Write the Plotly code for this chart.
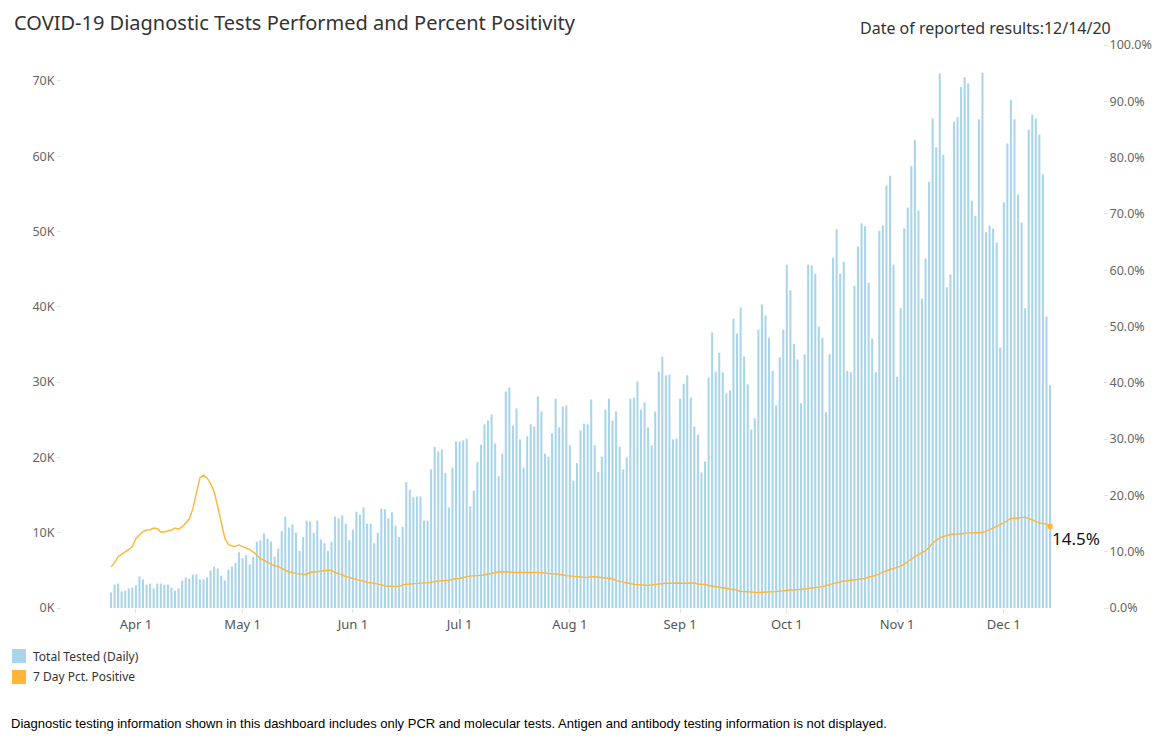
import pandas as pd
import plotly.graph_objects as go

# ---------------- data ----------------
start_date = "2020-03-25"
# Total tested (daily), in thousands
tests_k = [
    2.06, 3.1, 3.25, 2.2, 2.3, 2.6, 2.7, 3.0, 4.2, 3.8,
    3.1, 3.25, 2.6, 3.25, 3.25, 3.1, 3.1, 2.7, 2.3, 2.6,
    3.65, 4.05, 3.9, 4.45, 4.45, 3.8, 3.8, 4.05, 4.98, 5.5,
    5.25, 4.3, 3.65, 5.1, 5.5, 6.0, 7.4, 6.6, 7.0, 5.8,
    6.8, 8.8, 9.0, 9.9, 9.2, 8.8, 6.8, 7.9,
    10.2, 12.15, 10.7, 11.1, 10.0, 7.6, 9.4, 11.6, 11.5, 10.0,
    11.6, 9.1, 8.6, 7.6, 8.8, 12.15, 11.9, 12.3, 11.2, 9.0,
    10.4, 12.8, 12.4, 13.35, 11.2, 11.2, 8.6, 10.0, 13.2, 13.1,
    11.9, 12.7, 10.95, 9.4, 10.8, 16.7, 15.7, 14.7, 14.8,
    14.8, 11.6, 11.6, 18.4, 21.4, 20.8, 21.05, 17.9, 13.35, 18.65,
    22.1, 22.1, 22.25, 22.5, 13.5, 15.6, 19.4, 21.7, 24.4, 24.9,
    25.7, 21.85, 17.5, 20.5, 28.75, 29.3, 24.25, 26.5, 22.4, 18.65,
    22.8, 24.4, 24.1, 28.1, 26.1, 20.5, 20.1, 23.2, 27.8, 24.0,
    26.8, 26.9, 21.6, 16.9, 19.25, 23.6, 24.5, 24.4, 27.7, 21.6,
    18.1,
    20.1, 26.35, 27.8, 24.9, 26.1, 21.45, 18.4, 20.0, 27.8, 27.95,
    30.1, 26.35, 27.3, 24.0, 21.6, 26.1, 31.4, 33.4, 30.9, 31.0,
    22.4, 22.5, 27.8, 29.8, 30.9, 27.95, 24.1, 23.05, 18.0, 19.45,
    30.6, 36.6, 31.4, 33.9, 31.3, 28.5, 28.9, 38.45, 36.45, 39.9,
    33.4, 29.7, 23.7, 25.2, 37.0,
    40.3, 38.85, 35.9, 31.5, 26.9, 33.3, 37.0, 45.6, 42.2, 35.1,
    33.0, 27.2, 33.7, 45.6, 45.5, 44.4, 37.4, 35.9, 26.0, 33.7,
    46.5, 50.3, 44.4, 46.0, 31.5, 31.3, 42.8, 48.0, 51.1, 50.7,
    43.2, 35.8, 31.3,
    50.1, 50.8, 56.1, 57.4, 45.6, 30.7, 39.8, 50.4, 53.2, 58.75,
    62.2, 52.8, 41.1, 46.4, 56.6, 65.0, 61.2, 71.0, 60.2, 42.6,
    44.3, 64.6, 65.2, 69.2, 70.5, 69.7, 54.1, 52.1, 64.9, 71.1,
    49.9, 50.8, 50.4, 48.55, 34.6, 53.9, 61.7, 67.5, 64.9, 54.9,
    51.2, 39.8, 63.5, 65.5, 65.0, 62.9, 57.6, 38.7, 29.6,
]
# 7 day percent positive
pct_positive = [
    7.3, 8.0, 9.1, 9.5, 10.0, 10.4, 10.9, 12.3, 13.0, 13.55,
    13.85, 13.9, 14.2, 14.1, 13.5, 13.5, 13.7, 13.85, 14.2, 14.0,
    14.4, 15.1, 15.8, 17.6, 20.4, 23.1, 23.6, 23.1, 22.1, 20.65,
    18.0, 15.0, 12.4, 11.3, 11.0, 10.95, 11.2, 10.9, 10.65, 10.35,
    9.95, 9.3, 8.8, 8.45, 8.1, 7.8, 7.5, 7.35,
    7.0, 6.7, 6.4, 6.3, 6.1, 6.05, 6.0, 6.0, 6.3, 6.4,
    6.4, 6.6, 6.6, 6.7, 6.7, 6.3, 6.1, 5.9, 5.55, 5.45,
    5.2, 5.0, 4.9, 4.8, 4.55, 4.5, 4.4, 4.25, 4.1, 3.9,
    3.85, 3.85, 3.8, 3.85, 4.1, 4.2, 4.25, 4.25, 4.3,
    4.45, 4.5, 4.5, 4.55, 4.7, 4.8, 4.8, 4.9, 4.95, 5.1,
    5.2, 5.25, 5.4, 5.55, 5.7, 5.7, 5.7, 5.8, 5.9, 6.05,
    6.2, 6.3, 6.4, 6.45, 6.45, 6.4, 6.3, 6.3, 6.3, 6.3,
    6.3, 6.3, 6.4, 6.3, 6.25, 6.2, 6.15, 6.1, 6.05, 6.0,
    5.9, 5.75, 5.7, 5.7, 5.6,
    5.55, 5.45, 5.4, 5.6, 5.55, 5.45, 5.35, 5.35, 5.3, 5.2,
    4.85, 4.7, 4.6, 4.5, 4.25, 4.2, 4.15, 4.1, 4.0, 4.0,
    4.1, 4.2, 4.25, 4.4, 4.4, 4.4, 4.45, 4.45, 4.4, 4.45,
    4.45, 4.45, 4.45, 4.25, 4.2, 4.2, 4.0, 3.9, 3.8, 3.7,
    3.6, 3.5, 3.4, 3.3, 3.15, 2.95, 2.9, 2.85, 2.8, 2.8,
    2.75,
    2.8, 2.8, 2.85, 2.85, 2.9, 3.0, 3.1, 3.2, 3.2, 3.2,
    3.25, 3.3, 3.3, 3.45, 3.55, 3.6, 3.7, 3.8, 3.95, 4.15,
    4.4, 4.5, 4.6, 4.8, 4.85, 4.9, 4.95, 5.1, 5.15, 5.25,
    5.5, 5.6, 5.8,
    6.0, 6.4, 6.6, 6.75, 6.95, 7.2, 7.45, 7.8, 8.3, 8.65,
    9.15, 9.5, 9.8, 10.2, 10.75, 11.55, 12.0, 12.45, 12.7, 12.9,
    13.05, 13.15, 13.15, 13.15, 13.3, 13.3, 13.3, 13.35, 13.35, 13.4,
    13.6, 13.9, 14.2, 14.4, 14.7, 15.1, 15.5, 15.95, 15.95, 15.95,
    16.1, 16.1, 15.9, 15.7, 15.4, 15.1, 15.05, 14.85, 14.5,
]
x_tick_dates = ["2020-04-01", "2020-05-01", "2020-06-01", "2020-07-01", "2020-08-01",
                "2020-09-01", "2020-10-01", "2020-11-01", "2020-12-01"]
x_tick_labels = ["Apr 1", "May 1", "Jun 1", "Jul 1", "Aug 1", "Sep 1", "Oct 1", "Nov 1", "Dec 1"]
y_tick_vals = [0, 10000, 20000, 30000, 40000, 50000, 60000, 70000]
y_tick_labels = ["0K", "10K", "20K", "30K", "40K", "50K", "60K", "70K"]
y2_tick_vals = [0, 10, 20, 30, 40, 50, 60, 70, 80, 90, 100]
y2_tick_labels = ["0.0%", "10.0%", "20.0%", "30.0%", "40.0%", "50.0%", "60.0%", "70.0%",
                  "80.0%", "90.0%", "100.0%"]

title_text = "COVID-19 Diagnostic Tests Performed and Percent Positivity"
date_text = "Date of reported results:12/14/20"
legend_labels = ["Total Tested (Daily)", "7 Day Pct. Positive"]
footer_text = ("Diagnostic testing information shown in this dashboard includes only PCR and "
               "molecular tests. Antigen and antibody testing information is not displayed.")

# ---------------- styling / layout ----------------
SCREEN_W, SCREEN_H = 1164, 742
OFF = 8                                 # default page body margin
W, H = SCREEN_W - OFF, SCREEN_H - OFF   # figure size
L, R, T, B = 62, 1103, 45, 608          # plot area in screen pixels
BAR_COLOR = "#a9d5ec"
LINE_COLOR = "#ffb536"
FONT = "Noto Sans"

dates = pd.date_range(start_date, periods=len(tests_k), freq="D")
tests = [v * 1000 for v in tests_k]

px_per_day = 3.557
first_bar_px = 111
x_start = dates[0] - pd.Timedelta(days=(first_bar_px - L) / px_per_day)
x_end = dates[0] + pd.Timedelta(days=(R - first_bar_px) / px_per_day)


def pxx(x):
    return (x - L) / (R - L)


def pxy(y):
    return (B - y) / (B - T)


fig = go.Figure()
fig.add_trace(go.Bar(
    x=dates, y=tests, name=legend_labels[0], marker=dict(color=BAR_COLOR, line=dict(width=0)),
    width=0.58 * 86400000, yaxis="y",
))
fig.add_trace(go.Scatter(
    x=dates, y=pct_positive, name=legend_labels[1], mode="lines",
    line=dict(color=LINE_COLOR, width=1.4), yaxis="y2",
))
fig.add_trace(go.Scatter(
    x=[dates[-1]], y=[pct_positive[-1]], mode="markers",
    marker=dict(color=LINE_COLOR, symbol="square", size=5), yaxis="y2",
))

axis_common = dict(showgrid=False, zeroline=False, showline=False, ticks="outside",
                   ticklen=4, tickcolor="#e2e2e2", tickwidth=1)

fig.update_layout(
    width=W, height=H,
    margin=dict(l=L - OFF, r=SCREEN_W - R, t=T - OFF, b=SCREEN_H - B),
    paper_bgcolor="white", plot_bgcolor="white",
    showlegend=False,
    font=dict(family=FONT, color="#666666", size=12),
    xaxis=dict(range=[x_start, x_end], tickvals=x_tick_dates, ticktext=x_tick_labels,
               tickfont=dict(size=13, color="#555555"), **axis_common),
    yaxis=dict(range=[0, 74770], tickvals=y_tick_vals, ticktext=y_tick_labels,
               tickfont=dict(size=12.5, color="#666666"), **axis_common),
    yaxis2=dict(range=[0, 100], tickvals=y2_tick_vals, ticktext=y2_tick_labels,
                overlaying="y", side="right", ticklabelstandoff=-1,
                tickfont=dict(size=12.5, color="#666666"), **axis_common),
    title=dict(text=title_text, x=(14 - OFF) / W, xanchor="left", xref="container",
               y=1 - (23 - OFF) / H, yanchor="middle", yref="container",
               font=dict(family=FONT, size=20, color="#333333")),
)

annotations = [
    dict(text=date_text, x=pxx(1113), y=pxy(28), xanchor="right", yanchor="middle",
         font=dict(family=FONT, size=16, color="#333333")),
    dict(text=f"{pct_positive[-1]}%", x=dates[-1], y=pct_positive[-1], xref="x", yref="y2",
         xanchor="left", yanchor="top", xshift=0, yshift=1,
         font=dict(family=FONT, size=17, color="#111111")),
    dict(text=legend_labels[0], x=pxx(31), y=pxy(656), xanchor="left", yanchor="middle",
         font=dict(family=FONT, size=12, color="#333333")),
    dict(text=legend_labels[1], x=pxx(31), y=pxy(676), xanchor="left", yanchor="middle",
         font=dict(family=FONT, size=12, color="#333333")),
    dict(text=footer_text, x=pxx(9), y=pxy(723), xanchor="left", yanchor="middle",
         font=dict(family="Liberation Sans", size=13, color="#000000")),
]
for a in annotations:
    a.setdefault("xref", "paper")
    a.setdefault("yref", "paper")
    a["showarrow"] = False
fig.update_layout(annotations=annotations)

fig.add_shape(type="rect", xref="paper", yref="paper", x0=pxx(12), x1=pxx(26),
              y0=pxy(663), y1=pxy(649), fillcolor=BAR_COLOR, line=dict(width=0))
fig.add_shape(type="rect", xref="paper", yref="paper", x0=pxx(12), x1=pxx(26),
              y0=pxy(684), y1=pxy(670), fillcolor=LINE_COLOR, line=dict(width=0))

fig.write_html("out.html")
